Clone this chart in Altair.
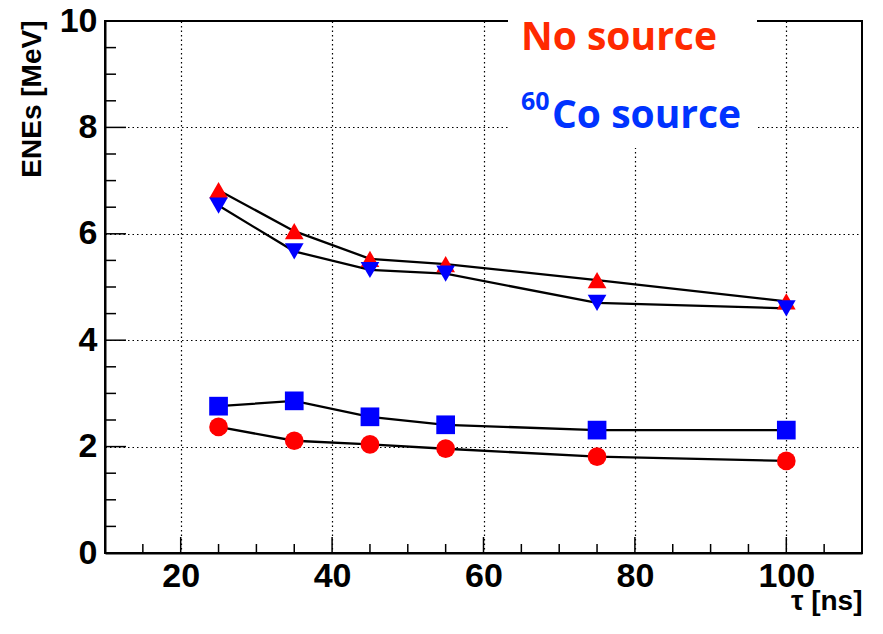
import altair as alt
import pandas as pd

# ---- data ----
tau = [25, 35, 45, 55, 75, 100]
no_source_high = [6.82, 6.05, 5.53, 5.43, 5.13, 4.73]
co60_high = [6.53, 5.67, 5.32, 5.25, 4.70, 4.60]
co60_low = [2.76, 2.86, 2.56, 2.41, 2.31, 2.31]
no_source_low = [2.37, 2.11, 2.04, 1.96, 1.81, 1.73]

series_names = ["No source high", "60Co high", "60Co low", "No source low"]
series_values = [no_source_high, co60_high, co60_low, no_source_low]
series_shapes = ["triangle-up", "triangle-down", "square", "circle"]
series_colors = ["#ff0000", "#0000ff", "#0000ff", "#ff0000"]

x_major = [20, 40, 60, 80, 100]
x_minor = [15, 25, 30, 35, 45, 50, 55, 65, 70, 75, 85, 90, 95, 105]
y_major = [0, 2, 4, 6, 8, 10]
y_minor = [0.5, 1, 1.5, 2.5, 3, 3.5, 4.5, 5, 5.5, 6.5, 7, 7.5, 8.5, 9, 9.5]

legend_no = ["No source"]
legend_co_sup = ["60"]
legend_co = ["Co source"]

rows = []
for name, vals in zip(series_names, series_values):
    for t, v in zip(tau, vals):
        rows.append({"series": name, "tau": t, "ene": v})
df = pd.DataFrame(rows)

W, H = 757, 532

xscale = alt.Scale(domain=[10, 110], nice=False, zero=False)
yscale = alt.Scale(domain=[0, 10], nice=False, zero=True)

label_font = "Liberation Sans"

xaxis = alt.Axis(
    values=x_major, ticks=False, labelFont=label_font, labelFontWeight="bold",
    labelFontSize=34, labelColor="black", labelPadding=6, labelFlush=False,
    domainColor="black", domainWidth=2, grid=True, gridColor="black",
    gridDash=[1.5, 3], gridWidth=1.2, gridOpacity=1,
    title="τ [ns]", titleFont=label_font, titleFontWeight="bold", titleFontSize=28,
    titleColor="black", titleX=W, titleY=48, titleAlign="right", titleBaseline="middle",
)
yaxis = alt.Axis(
    values=y_major, ticks=False, labelFont=label_font, labelFontWeight="bold",
    labelFontSize=34, labelColor="black", labelPadding=8, labelFlush=False,
    domainColor="black", domainWidth=2, grid=True, gridColor="black",
    gridDash=[1.5, 3], gridWidth=1.2, gridOpacity=1,
    title="ENEs [MeV]", titleFont=label_font, titleFontWeight="bold", titleFontSize=28,
    titleColor="black", titleAngle=270, titleX=-73, titleY=-1, titleAlign="right",
    titleBaseline="middle",
)

base = alt.Chart(df)

lines = base.mark_line(color="black", strokeWidth=2.3).encode(
    x=alt.X("tau:Q", scale=xscale, axis=xaxis),
    y=alt.Y("ene:Q", scale=yscale, axis=yaxis),
    detail="series:N",
)

points = base.mark_point(filled=True, opacity=1, size=350, strokeWidth=0).encode(
    x=alt.X("tau:Q", scale=xscale),
    y=alt.Y("ene:Q", scale=yscale),
    shape=alt.Shape("series:N", scale=alt.Scale(domain=series_names, range=series_shapes), legend=None),
    color=alt.Color("series:N", scale=alt.Scale(domain=series_names, range=series_colors), legend=None),
)

xmaj_df = pd.DataFrame({"v": x_major})
xmin_df = pd.DataFrame({"v": x_minor})
ymaj_df = pd.DataFrame({"v": [2, 4, 6, 8]})
ymin_df = pd.DataFrame({"v": y_minor})

tick_style = dict(color="black", strokeWidth=1.5)
xt_major = alt.Chart(xmaj_df).mark_rule(**tick_style).encode(
    x=alt.X("v:Q", scale=xscale), y=alt.value(H), y2=alt.value(H - 16))
xt_minor = alt.Chart(xmin_df).mark_rule(**tick_style).encode(
    x=alt.X("v:Q", scale=xscale), y=alt.value(H), y2=alt.value(H - 9))
yt_major = alt.Chart(ymaj_df).mark_rule(**tick_style).encode(
    y=alt.Y("v:Q", scale=yscale), x=alt.value(0), x2=alt.value(21))
yt_minor = alt.Chart(ymin_df).mark_rule(**tick_style).encode(
    y=alt.Y("v:Q", scale=yscale), x=alt.value(0), x2=alt.value(11))

white_box = alt.Chart(pd.DataFrame({"a": [0]})).mark_rect(color="white").encode(
    x=alt.value(403), x2=alt.value(652), y=alt.value(-14), y2=alt.value(127))

legend_font = "Open Sans"
t_no = alt.Chart(pd.DataFrame({"t": legend_no})).mark_text(
    font=legend_font, fontWeight="bold", fontSize=39, color="#ff2a00",
    align="left", baseline="alphabetic").encode(
    x=alt.value(416), y=alt.value(29), text="t:N")
t_sup = alt.Chart(pd.DataFrame({"t": legend_co_sup})).mark_text(
    font=legend_font, fontWeight="bold", fontSize=25, color="#0033ff",
    align="left", baseline="alphabetic").encode(
    x=alt.value(416), y=alt.value(89), text="t:N")
t_co = alt.Chart(pd.DataFrame({"t": legend_co})).mark_text(
    font=legend_font, fontWeight="bold", fontSize=39, color="#0033ff",
    align="left", baseline="alphabetic").encode(
    x=alt.value(447), y=alt.value(107), text="t:N")

chart = alt.layer(
    lines, xt_major, xt_minor, yt_major, yt_minor, points, white_box, t_no, t_sup, t_co
).properties(
    width=W, height=H,
    autosize=alt.AutoSizeParams(type="none"),
    padding={"left": 97, "top": 13, "right": 8, "bottom": 72},
    background="white",
).configure_view(stroke="black", strokeWidth=2)

chart.save("out.html", embed_options={"renderer": "svg", "actions": False})
